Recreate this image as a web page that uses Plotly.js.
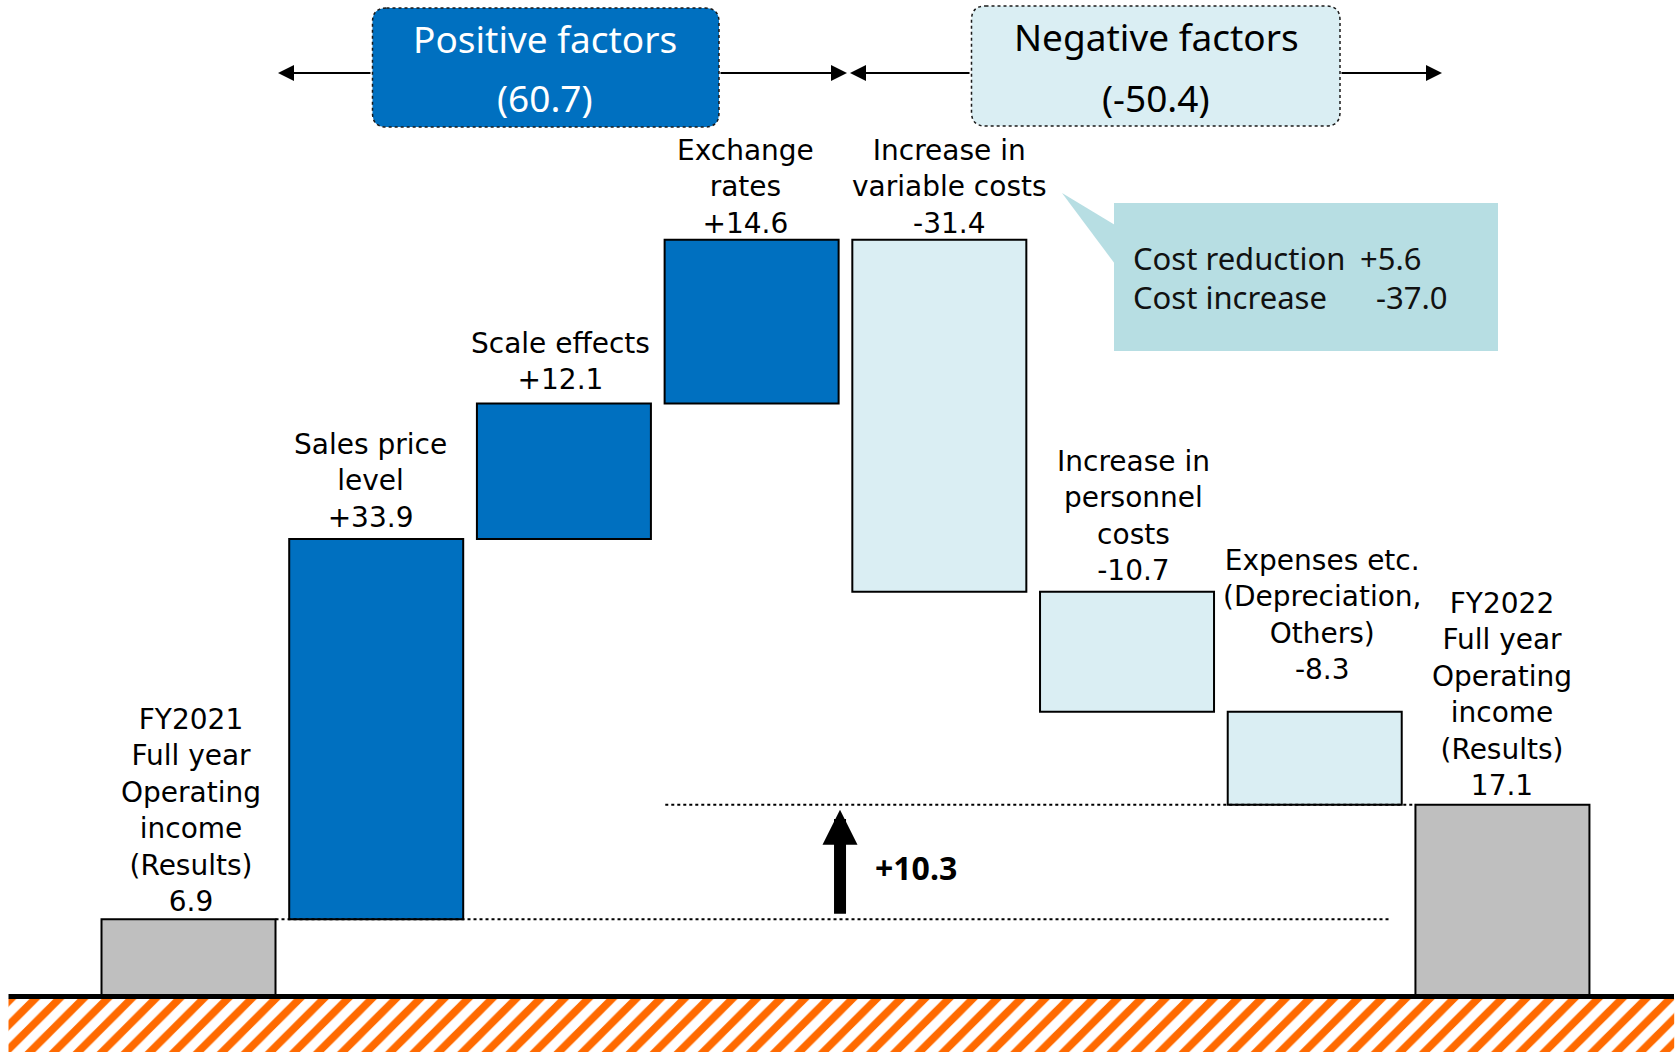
<!DOCTYPE html>
<html><head><meta charset="utf-8">
<script src="https://cdn.plot.ly/plotly-3.0.1.min.js"></script>
<style>html,body{margin:0;padding:0;background:#fff}</style>
</head><body><div id="chart" style="width:1677px;height:1052px"></div>
<script>
// ---- data ----
const categories = ['FY2021 result', 'Sales price level', 'Scale effects', 'Exchange rates',
  'Increase in variable costs', 'Increase in personnel costs', 'Expenses etc.', 'FY2022 result'];
const labelTexts = [
  'FY2021<br>Full year<br>Operating<br>income<br>(Results)',
  'Sales price<br>level',
  'Scale effects',
  'Exchange<br>rates',
  'Increase in<br>variable costs',
  'Increase in<br>personnel<br>costs',
  'Expenses etc.<br>(Depreciation,<br>Others)',
  'FY2022<br>Full year<br>Operating<br>income<br>(Results)'
];
const values = [6.9, 33.9, 12.1, 14.6, -31.4, -10.7, -8.3, 17.1];
const measures = ['absolute', 'relative', 'relative', 'relative', 'relative', 'relative', 'relative', 'total'];
const positiveLabel = ['Positive factors', '(60.7)'];
const negativeLabel = ['Negative factors', '(-50.4)'];
const changeLabel = '+10.3';
const costLines = [['Cost reduction', '+5.6'], ['Cost increase', '-37.0']];

// ---- derived ----
const W = 1677, H = 1052;
const X = v => v / W, Y = v => 1 - v / H;
let run = 0;
const tops = [], ends = [], valueText = [];
values.forEach((v, i) => {
  let before = run;
  if (measures[i] === 'absolute') { before = 0; run = v; valueText.push(v.toFixed(1)); }
  else if (measures[i] === 'relative') { run += v; valueText.push((v > 0 ? '+' : '') + v.toFixed(1)); }
  else { before = 0; valueText.push(run.toFixed(1)); }
  tops.push(Math.max(before, run));
  ends.push(run);
});
const startVal = ends[0], endVal = ends[ends.length - 1];
const idx = values.map((_, i) => i);
const barW = 0.927;

const lineBlack = {color: '#000', width: 2};
const traces = [
  {
    type: 'scatter', x: [-0.959, 7.915, 7.915, -0.959, -0.959], y: [-0.2, -0.2, -6, -6, -0.2],
    mode: 'lines', fill: 'toself', line: {width: 0, color: 'rgba(0,0,0,0)'},
    fillcolor: 'white',
    fillpattern: {shape: '/', fgcolor: '#FF6A00', bgcolor: 'white', size: 17, solidity: 0.45},
    hoverinfo: 'skip', showlegend: false
  },
  {
    type: 'waterfall', x: idx, y: values, measure: measures, width: barW,
    text: categories, textinfo: 'none', hoverinfo: 'skip',
    increasing: {marker: {color: '#0070C0', line: lineBlack}},
    decreasing: {marker: {color: '#DAEEF3', line: lineBlack}},
    totals: {marker: {color: '#BFBFBF', line: lineBlack}},
    connector: {visible: false}, showlegend: false
  }
];

function rr(x0, y0, x1, y1, r) {
  return `M${X(x0 + r)},${Y(y0)} L${X(x1 - r)},${Y(y0)} Q${X(x1)},${Y(y0)} ${X(x1)},${Y(y0 + r)} ` +
    `L${X(x1)},${Y(y1 - r)} Q${X(x1)},${Y(y1)} ${X(x1 - r)},${Y(y1)} L${X(x0 + r)},${Y(y1)} ` +
    `Q${X(x0)},${Y(y1)} ${X(x0)},${Y(y1 - r)} L${X(x0)},${Y(y0 + r)} Q${X(x0)},${Y(y0)} ${X(x0 + r)},${Y(y0)} Z`;
}

const shapes = [
  {type: 'line', xref: 'paper', yref: 'y', x0: X(8.5), x1: X(1674), y0: 0, y1: 0,
    line: {color: '#000', width: 5}, layer: 'above'},
  {type: 'line', xref: 'x', yref: 'y', x0: 0 + barW / 2, x1: 6.40, y0: startVal, y1: startVal,
    line: {color: '#000', width: 2, dash: 'dot'}},
  {type: 'line', xref: 'x', yref: 'y', x0: 2.54, x1: 7 - barW / 2, y0: endVal, y1: endVal,
    line: {color: '#000', width: 2, dash: 'dot'}},
  {type: 'path', xref: 'paper', yref: 'paper', path: rr(372.5, 8, 719, 127, 14),
    fillcolor: '#0070C0', line: {color: '#1a1a1a', width: 1.5, dash: 'dot'}},
  {type: 'path', xref: 'paper', yref: 'paper', path: rr(971.5, 6, 1340, 126, 14),
    fillcolor: '#DAEEF3', line: {color: '#1a1a1a', width: 1.5, dash: 'dot'}},
  {type: 'rect', xref: 'paper', yref: 'paper', x0: X(1114), x1: X(1498), y0: Y(351), y1: Y(203),
    fillcolor: '#B7DEE3', line: {width: 0}},
  {type: 'path', xref: 'paper', yref: 'paper',
    path: `M${X(1062)},${Y(193)} L${X(1115)},${Y(225)} L${X(1115)},${Y(264)} Z`,
    fillcolor: '#B7DEE3', line: {width: 0}}
];

const lblFont = {family: 'DejaVu Sans', size: 28, color: '#000'};
const lblXShift = [2, -6, -3, -6, 10, 6, 7, 0];
const lblYShift = [-1, 3, 5, -2, -2, 3, 24, 1];
const annotations = [];
idx.forEach(i => {
  annotations.push({
    x: i, y: tops[i], xref: 'x', yref: 'y', xanchor: 'center', yanchor: 'bottom',
    text: labelTexts[i] + '<br>' + valueText[i], showarrow: false, font: lblFont,
    yshift: lblYShift[i], xshift: lblXShift[i]
  });
});
function hArrow(tipPx, tailPx, yPx) {
  annotations.push({xref: 'paper', yref: 'paper', x: X(tipPx), y: Y(yPx), ax: tailPx - tipPx, ay: 0,
    text: '', showarrow: true, arrowhead: 2, arrowsize: 1.6, arrowwidth: 2, arrowcolor: '#000'});
}
hArrow(278, 372, 73); hArrow(847, 719, 73); hArrow(850, 971, 73); hArrow(1442, 1340, 73);
const boxFont = {family: 'Noto Sans', size: 37};
function ptext(xp, yp, txt, color) {
  annotations.push({xref: 'paper', yref: 'paper', x: X(xp), y: Y(yp), xanchor: 'center', yanchor: 'middle',
    text: txt, showarrow: false, font: Object.assign({color: color}, boxFont)});
}
ptext(545, 39, positiveLabel[0], '#fff');
ptext(545, 98, positiveLabel[1], '#fff');
ptext(1156, 37, negativeLabel[0], '#000');
ptext(1156, 98, negativeLabel[1], '#000');

const cFont = {family: 'Noto Sans', size: 31, color: '#111'};
function ctext(xp, yp, txt) {
  annotations.push({xref: 'paper', yref: 'paper', x: X(xp), y: Y(yp), xanchor: 'left', yanchor: 'middle',
    text: txt, showarrow: false, font: cFont});
}
ctext(1131, 258, costLines[0][0]); ctext(1358, 258, costLines[0][1]);
ctext(1131, 297, costLines[1][0]); ctext(1374, 297, costLines[1][1]);

annotations.push({
  xref: 'x', yref: 'y', axref: 'x', ayref: 'y', x: 3.471, y: endVal - 0.45, ax: 3.471, ay: startVal + 0.35,
  text: '', showarrow: true, arrowhead: 2, arrowsize: 0.583, arrowwidth: 12, arrowcolor: '#000'
});
annotations.push({
  xref: 'x', yref: 'y', x: 3.647, y: (startVal + endVal) / 2, xanchor: 'left', yanchor: 'middle', yshift: -6,
  text: '<b>' + changeLabel + '</b>', showarrow: false, font: {family: 'Noto Sans', size: 32, color: '#000'}
});

const layout = {
  width: W, height: H, margin: {l: 0, r: 0, t: 0, b: 0},
  paper_bgcolor: '#fff', plot_bgcolor: '#fff', showlegend: false,
  xaxis: {range: [-1.0043, 7.930], visible: false, fixedrange: true},
  yaxis: {range: [-4.95, 88.89], visible: false, fixedrange: true},
  shapes: shapes, annotations: annotations
};
Plotly.newPlot('chart', traces, layout, {displayModeBar: false, staticPlot: true});
</script></body></html>
